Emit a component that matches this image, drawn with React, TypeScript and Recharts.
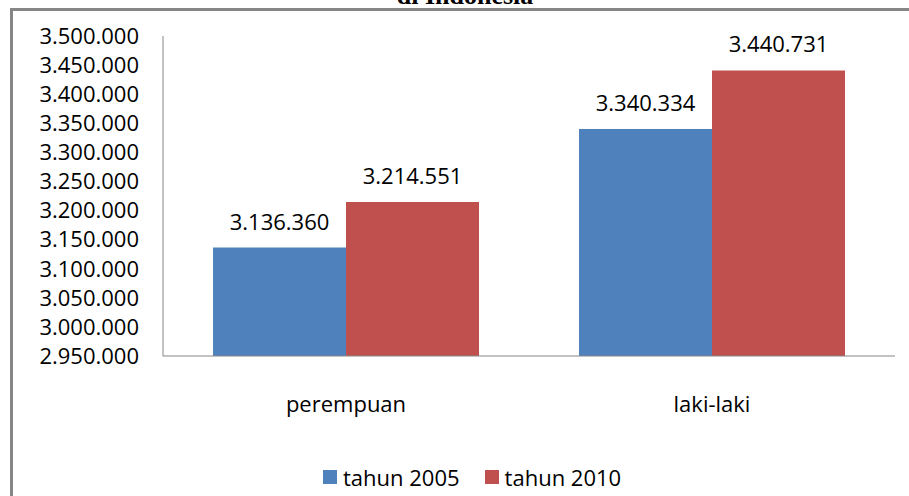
import { Bar, BarChart, LabelList, Legend, XAxis, YAxis } from "recharts"

const categories = ["perempuan", "laki-laki"]
const tahun2005 = [3136360, 3340334]
const tahun2010 = [3214551, 3440731]
const yTicks = [
  2950000, 3000000, 3050000, 3100000, 3150000, 3200000, 3250000, 3300000, 3350000, 3400000, 3450000,
  3500000,
]

const data = categories.map((name, i) => ({
  name,
  t2005: tahun2005[i],
  t2010: tahun2010[i],
}))

const FONT = "'Open Sans', sans-serif"
const AXIS = "#868686"
const BLUE = "#4F81BD"
const RED = "#C0504D"

const fmt = (v: number) => String(v).replace(/\B(?=(\d{3})+(?!\d))/g, ".")

const series = [
  { key: "t2005", label: "tahun 2005", color: BLUE },
  { key: "t2010", label: "tahun 2010", color: RED },
]

function LegendRow() {
  return (
    <div style={{ display: "flex", alignItems: "center", fontFamily: FONT, fontSize: 22, lineHeight: "30px", color: "#000" }}>
      {series.map((s, i) => (
        <span key={s.key} style={{ display: "inline-flex", alignItems: "center", marginRight: i === 0 ? 25 : 0 }}>
          <span style={{ width: 14, height: 14, background: s.color, marginRight: 6, display: "inline-block" }} />
          {s.label}
        </span>
      ))}
    </div>
  )
}

export default function App() {
  return (
    <div style={{ position: "absolute", left: 0, top: 0, width: 909, height: 496, background: "#fff" }}>
      <svg width={909} height={10} style={{ position: "absolute", left: 0, top: 0 }}>
        <text x={465} y={4} textAnchor="middle" fontFamily="'Liberation Serif', serif" fontWeight="bold" fontSize={26}>
          di Indonesia
        </text>
      </svg>
      <div
        style={{
          position: "absolute",
          left: 10,
          top: 8,
          width: 896,
          height: 485,
          borderLeft: `3px solid ${AXIS}`,
          borderTop: `3px solid ${AXIS}`,
        }}
      />
      <div style={{ position: "absolute", left: 0, top: 0 }}>
        <BarChart width={909} height={496} data={data} margin={{ top: 36, right: 14, bottom: 0, left: 0 }} barGap={0}>
          <XAxis
            dataKey="name"
            height={140}
            tickLine={false}
            tickSize={0}
            tickMargin={40}
            axisLine={{ stroke: AXIS }}
            tick={{ fill: "#000", fontFamily: FONT, fontSize: 22 }}
          />
          <YAxis
            width={163}
            domain={[2950000, 3500000]}
            ticks={yTicks}
            interval={0}
            tickLine={false}
            tickSize={0}
            tickMargin={24}
            axisLine={{ stroke: AXIS }}
            tickFormatter={fmt}
            tick={{ fill: "#000", fontFamily: FONT, fontSize: 22 }}
          />
          <Legend
            layout="horizontal"
            verticalAlign="middle"
            align="center"
            wrapperStyle={{ top: 462, left: 323, width: "auto" }}
            content={() => <LegendRow />}
          />
          {series.map((s) => (
            <Bar key={s.key} dataKey={s.key} name={s.label} fill={s.color} barSize={133} isAnimationActive={false}>
              <LabelList
                dataKey={s.key}
                position="top"
                offset={18}
                formatter={(v: any) => fmt(Number(v))}
                style={{ fill: "#000", fontFamily: FONT, fontSize: 22 }}
              />
            </Bar>
          ))}
        </BarChart>
      </div>
    </div>
  )
}
